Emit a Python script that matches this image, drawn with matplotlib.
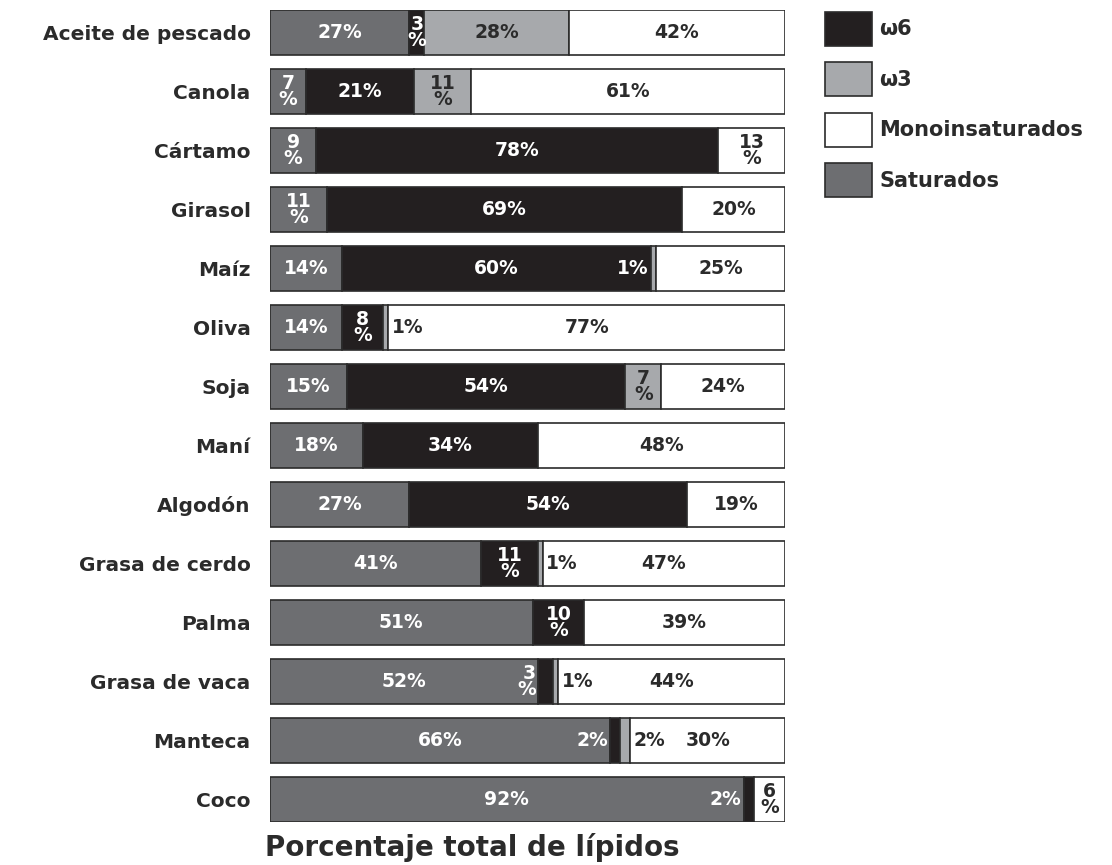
import matplotlib
matplotlib.use("Agg")
import matplotlib.pyplot as plt
from matplotlib.patches import Patch

# Datos: porcentaje de cada tipo de grasa
categorias = ["Aceite de pescado", "Canola", "Cártamo", "Girasol", "Maíz", "Oliva",
              "Soja", "Maní", "Algodón", "Grasa de cerdo", "Palma", "Grasa de vaca",
              "Manteca", "Coco"]
saturados = [27, 7, 9, 11, 14, 14, 15, 18, 27, 41, 51, 52, 66, 92]
omega6 = [3, 21, 78, 69, 60, 8, 54, 34, 54, 11, 10, 3, 2, 2]
omega3 = [28, 11, 0, 0, 1, 1, 7, 0, 0, 1, 0, 1, 2, 0]
mono = [42, 61, 13, 20, 25, 77, 24, 48, 19, 47, 39, 44, 30, 6]

series = [saturados, omega6, omega3, mono]
nombres = ["Saturados", "ω6", "ω3", "Monoinsaturados"]
colores = ["#6d6e71", "#231f20", "#a7a9ac", "#ffffff"]
texto_col = ["white", "white", "#2b2b2b", "#2b2b2b"]

# como se rotula cada segmento: c=centro, s=apilado, b=antes del segmento, a=después
modos = [
    ["c", "s", "c", "c"],
    ["s", "c", "s", "c"],
    ["s", "c", "c", "s"],
    ["s", "c", "c", "c"],
    ["c", "c", "b", "c"],
    ["c", "s", "a", "c"],
    ["c", "c", "s", "c"],
    ["c", "c", "c", "c"],
    ["c", "c", "c", "c"],
    ["c", "s", "a", "c"],
    ["c", "s", "c", "c"],
    ["c", "bs", "a", "c"],
    ["c", "b", "a", "c"],
    ["c", "b", "c", "s"],
]

fig = plt.figure(figsize=(11.12, 8.65), dpi=100)
W, H = 1112, 865
ax = fig.add_axes([270 / W, 1 - 822 / H, 515 / W, 812 / H])

h = 0.77
y = list(range(len(categorias)))
left = [0] * len(categorias)
for k, vals in enumerate(series):
    ax.barh(y, vals, left=left, height=h, color=colores[k], edgecolor="#2b2b2b",
            linewidth=1.2)
    left = [l + v for l, v in zip(left, vals)]

fs = 13.5
for i in range(len(categorias)):
    start = 0
    for k, vals in enumerate(series):
        v = vals[i]
        if v == 0:
            continue
        m = modos[i][k]
        col = texto_col[k]
        if m == "c":
            ax.text(start + v / 2, i, f"{v}%", ha="center", va="center", color=col,
                    fontsize=fs, fontweight="bold")
        elif m == "s":
            ax.text(start + v / 2, i, f"{v}\n%", ha="center", va="center", color=col,
                    fontsize=fs, fontweight="bold", linespacing=0.8)
        elif m == "b":
            ax.text(start - 0.4, i, f"{v}%", ha="right", va="center",
                    color="white", fontsize=fs, fontweight="bold")
        elif m == "bs":
            ax.text(start - 0.4, i, f"{v}\n%", ha="right", va="center",
                    color="white", fontsize=fs, fontweight="bold", linespacing=0.8)
        elif m == "a":
            ax.text(start + v + 0.6, i, f"{v}%", ha="left", va="center",
                    color="#2b2b2b", fontsize=fs, fontweight="bold")
        start += v

ax.set_xlim(0, 100)
ax.set_ylim(len(categorias) - 1 + h / 2, -h / 2)
ax.set_yticks(y)
ax.set_yticklabels(categorias, fontsize=14.5, fontweight="bold", color="#2b2b2b")
ax.tick_params(axis="y", length=0, pad=14)
ax.set_xticks([])
for s in ax.spines.values():
    s.set_visible(False)

fig.text(265 / W, 1 - 848 / H, "Porcentaje total de lípidos", fontsize=20,
         fontweight="bold", color="#2b2b2b", va="center", ha="left")

orden = [1, 2, 3, 0]
handles = [Patch(facecolor=colores[k], edgecolor="#2b2b2b", linewidth=1.2,
                 label=nombres[k]) for k in orden]
leg = fig.legend(handles=handles, loc="upper left", bbox_to_anchor=(825 / W, 1 - 12 / H),
                 frameon=False, fontsize=15, handlelength=2.26, handleheight=2.12,
                 labelspacing=0.8, handletextpad=0.35, borderaxespad=0, borderpad=0)
for t in leg.get_texts():
    t.set_fontweight("bold")
    t.set_color("#2b2b2b")

fig.savefig("out.png", dpi=100)
